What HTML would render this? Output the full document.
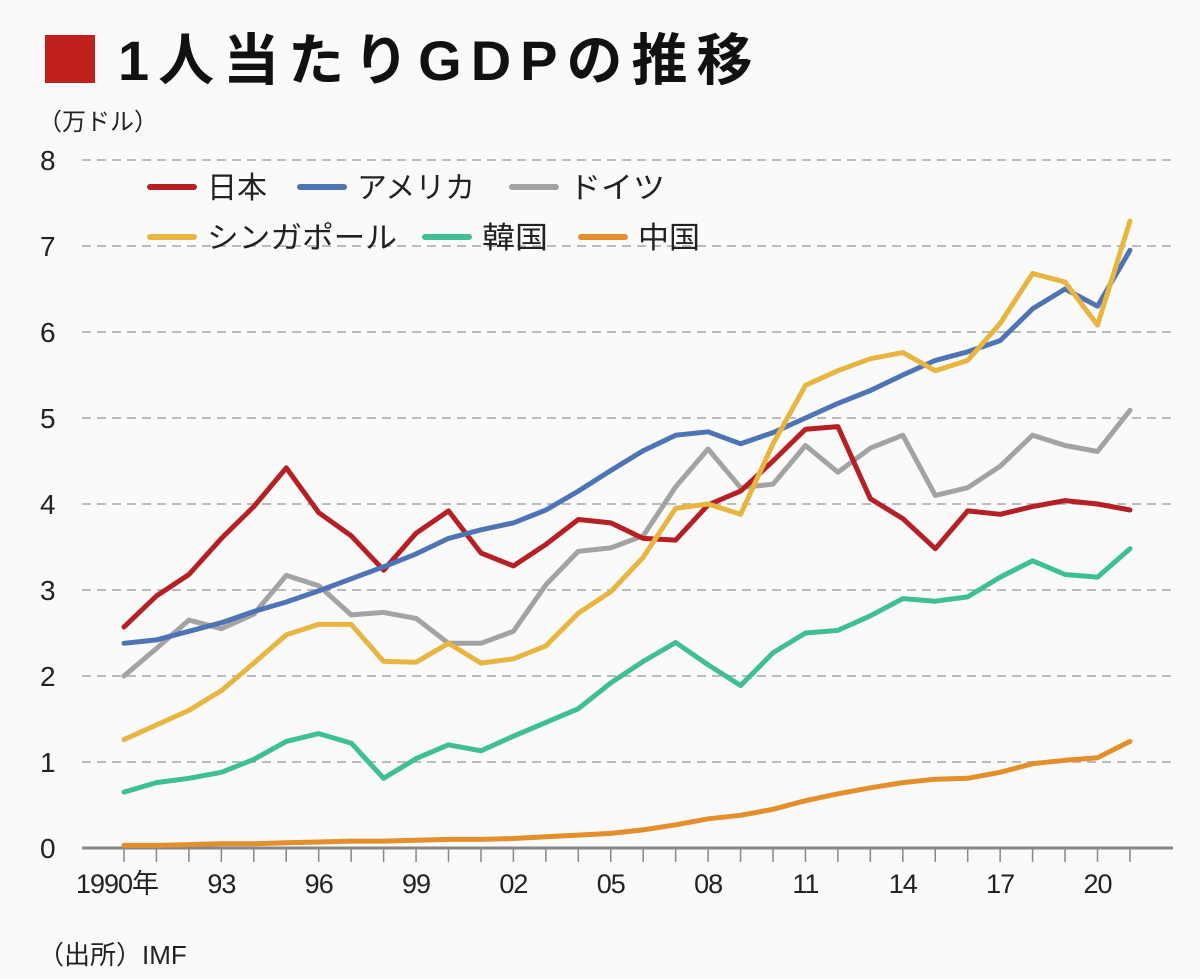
<!DOCTYPE html>
<html><head><meta charset="utf-8">
<style>
body{margin:0;background:#fafafa;}
svg{display:block;font-family:"Liberation Sans","Noto Sans CJK JP",sans-serif;}
</style></head><body>
<svg id="chart" width="1200" height="979">
<rect x="0" y="0" width="1200" height="979" fill="#fafafa"/>
<rect x="45" y="35" width="50" height="48" fill="#c0211d"/>
<text x="118" y="80" font-size="56" font-weight="bold" fill="#111" letter-spacing="9">1人当たりGDPの推移</text>
<text x="38" y="130" font-size="24" fill="#222">（万ドル）</text>
<g id="grid"></g>
<g id="series"></g>
<g id="legend"></g>
<text x="38" y="964" font-size="26" fill="#222">（出所）IMF</text>
</svg>
<script>
const years = [1990,1991,1992,1993,1994,1995,1996,1997,1998,1999,2000,2001,2002,2003,2004,2005,2006,2007,2008,2009,2010,2011,2012,2013,2014,2015,2016,2017,2018,2019,2020,2021];
const japan = [2.57,2.93,3.18,3.6,3.97,4.42,3.9,3.63,3.23,3.66,3.92,3.43,3.28,3.53,3.82,3.78,3.6,3.58,3.99,4.15,4.5,4.87,4.9,4.06,3.83,3.48,3.92,3.88,3.97,4.04,4.0,3.93];
const usa = [2.38,2.42,2.52,2.62,2.75,2.86,2.99,3.13,3.27,3.42,3.6,3.7,3.78,3.93,4.15,4.39,4.62,4.8,4.84,4.7,4.83,5.0,5.17,5.32,5.5,5.67,5.77,5.9,6.27,6.5,6.3,6.95];
const germany = [2.0,2.32,2.65,2.55,2.72,3.17,3.05,2.71,2.74,2.67,2.38,2.38,2.52,3.06,3.45,3.49,3.63,4.2,4.64,4.19,4.23,4.68,4.37,4.65,4.8,4.1,4.19,4.44,4.8,4.68,4.61,5.09];
const singapore = [1.26,1.43,1.6,1.83,2.15,2.48,2.6,2.6,2.17,2.16,2.38,2.15,2.2,2.35,2.73,2.98,3.38,3.95,4.0,3.88,4.7,5.38,5.55,5.69,5.76,5.55,5.67,6.1,6.68,6.58,6.08,7.29];
const korea = [0.65,0.76,0.81,0.88,1.03,1.24,1.33,1.22,0.81,1.04,1.2,1.13,1.3,1.46,1.62,1.92,2.17,2.39,2.13,1.89,2.27,2.5,2.53,2.7,2.9,2.87,2.92,3.15,3.34,3.18,3.15,3.48];
const china = [0.03,0.03,0.04,0.05,0.05,0.06,0.07,0.08,0.08,0.09,0.1,0.1,0.11,0.13,0.15,0.17,0.21,0.27,0.34,0.38,0.45,0.55,0.63,0.7,0.76,0.8,0.81,0.88,0.98,1.02,1.05,1.24];
const yTicks = [0,1,2,3,4,5,6,7,8];
const xTickLabels = ["1990年","93","96","99","02","05","08","11","14","17","20"];
const xTickYears = [1990,1993,1996,1999,2002,2005,2008,2011,2014,2017,2020];

const NS="http://www.w3.org/2000/svg";
const X = y => 124 + (y-1990)*32.45;
const Y = v => 848 - v*86;
function mk(tag, attrs, parent){const e=document.createElementNS(NS,tag);for(const k in attrs)e.setAttribute(k,attrs[k]);parent.appendChild(e);return e;}
const grid=document.getElementById('grid');
yTicks.forEach(t=>{
  if(t>0){
    const l=mk('line',{x1:82,x2:1173,y1:Y(t),y2:Y(t),stroke:'#bbb','stroke-width':2,'stroke-dasharray':'9 6'},grid);
    
    
  }
  const tx=mk('text',{x:40,y:Y(t)+10,'font-size':28,fill:'#222'},grid);
  tx.textContent=t;
  
  
});
const ax=mk('line',{x1:82,x2:1173,y1:Y(0),y2:Y(0),stroke:'#888','stroke-width':3},grid);


years.forEach(yr=>{
  const t=mk('line',{x1:X(yr),x2:X(yr),y1:Y(0),y2:Y(0)+14,stroke:'#888','stroke-width':1.5},grid);
  
  
});
xTickLabels.forEach((lab,i)=>{
  const cx = i===0 ? X(xTickYears[i])-7 : X(xTickYears[i]);
  const t=mk('text',{x:cx,y:893,'font-size':27,fill:'#222','text-anchor':'middle','letter-spacing':-1},grid);
  t.textContent=lab;
  
  
});
const series=[
  {name:'china',label:'中国',data:china,color:'#e58e2c'},
  {name:'korea',label:'韓国',data:korea,color:'#3fbf94'},
  {name:'germany',label:'ドイツ',data:germany,color:'#a3a3a3'},
  {name:'japan',label:'日本',data:japan,color:'#b52025'},
  {name:'usa',label:'アメリカ',data:usa,color:'#4d74b4'},
  {name:'singapore',label:'シンガポール',data:singapore,color:'#e8b540'}
];
const sg=document.getElementById('series');
series.forEach(s=>{
  const d=s.data.map((v,i)=>(i?'L':'M')+X(years[i]).toFixed(1)+','+Y(v).toFixed(1)).join(' ');
  const p=mk('path',{d:d,fill:'none',stroke:s.color,'stroke-width':5,'stroke-linejoin':'round','stroke-linecap':'round'},sg);
  
  
});
const legendItems=[
  {label:'日本',color:'#b52025',x:150,y:187,tw:60},
  {label:'アメリカ',color:'#4d74b4',x:300,y:187,tw:118},
  {label:'ドイツ',color:'#a3a3a3',x:512,y:187,tw:96},
  {label:'シンガポール',color:'#e8b540',x:150,y:237,tw:190},
  {label:'韓国',color:'#3fbf94',x:425,y:237,tw:66},
  {label:'中国',color:'#e58e2c',x:581,y:237,tw:62}
];
const lg=document.getElementById('legend');
legendItems.forEach(it=>{
  const g=mk('g',{},lg);
  
  
  mk('line',{x1:it.x,x2:it.x+44,y1:it.y,y2:it.y,stroke:it.color,'stroke-width':6,'stroke-linecap':'round'},g);
  const t=mk('text',{x:it.x+57,y:it.y+11,'font-size':30,fill:'#222',textLength:it.tw,lengthAdjust:'spacingAndGlyphs'},g);
  t.textContent=it.label;
});
</script>
</body></html>
